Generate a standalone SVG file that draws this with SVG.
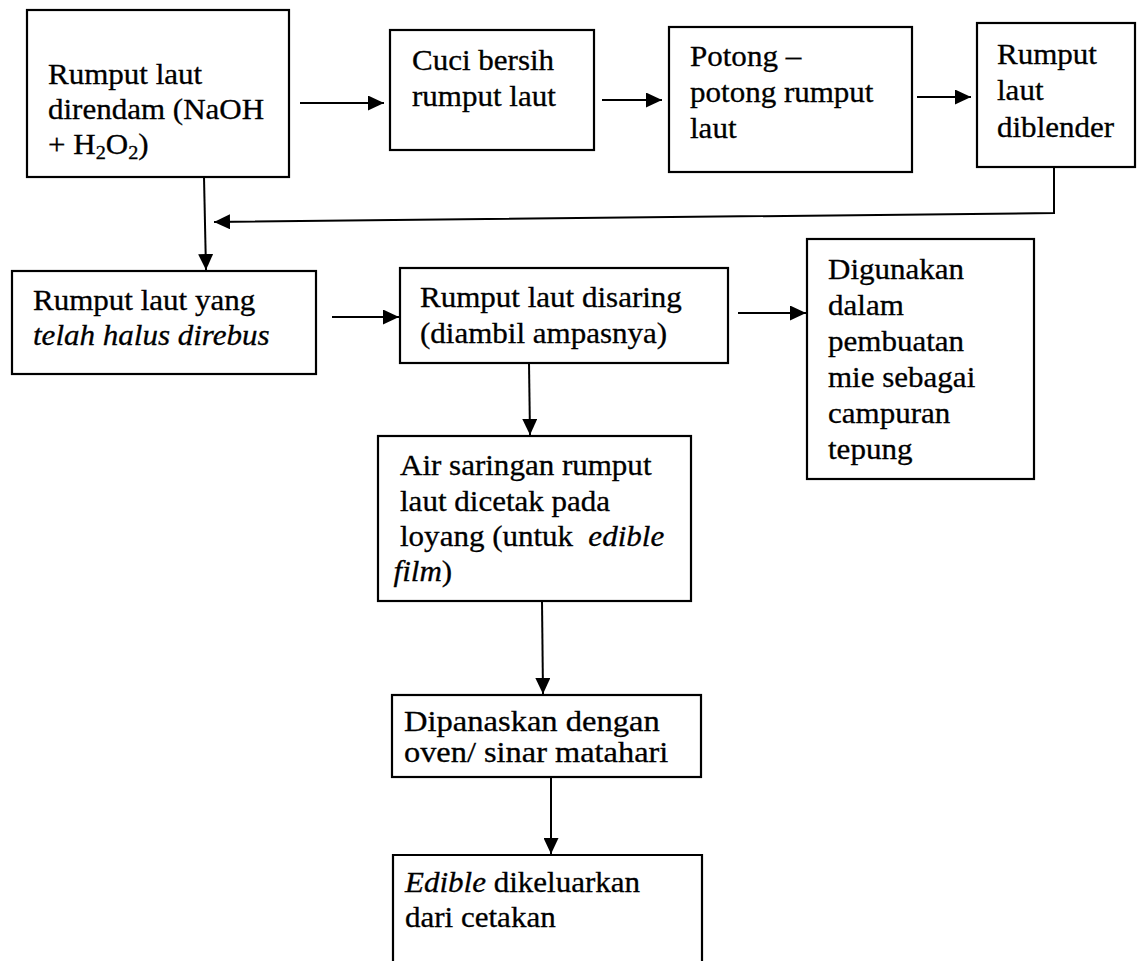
<svg xmlns="http://www.w3.org/2000/svg" width="1147" height="961" viewBox="0 0 1147 961">
<style>
.box{fill:#fff;stroke:#000;stroke-width:2.2}
.t{font-family:"Liberation Serif","Times New Roman",serif;font-size:29px;fill:#000;stroke:#000;stroke-width:0.3}
.i{font-style:italic}
.sub{font-size:19px}
.c{fill:none;stroke:#000;stroke-width:2}
</style>
<defs>
<marker id="ah" viewBox="0 0 16 15" markerWidth="16" markerHeight="15" refX="16" refY="7.5" orient="auto" markerUnits="userSpaceOnUse"><path d="M0,0 L16,7.5 L0,15 Z" fill="#000"/></marker>
</defs>
<rect width="1147" height="961" fill="#fff"/>

<g id="connectors">
<line class="c" x1="300" y1="103" x2="384" y2="103" marker-end="url(#ah)"/>
<line class="c" x1="602" y1="100" x2="662" y2="100" marker-end="url(#ah)"/>
<line class="c" x1="917" y1="97" x2="971" y2="97" marker-end="url(#ah)"/>
<polyline class="c" points="1054,167 1054,213 214,222" marker-end="url(#ah)"/>
<line class="c" x1="204" y1="177" x2="206" y2="270" marker-end="url(#ah)"/>
<line class="c" x1="332" y1="317" x2="399" y2="317" marker-end="url(#ah)"/>
<line class="c" x1="529" y1="363" x2="530" y2="435" marker-end="url(#ah)"/>
<line class="c" x1="738" y1="313" x2="806" y2="313" marker-end="url(#ah)"/>
<line class="c" x1="542" y1="601" x2="543" y2="694" marker-end="url(#ah)"/>
<line class="c" x1="551" y1="777" x2="551" y2="854" marker-end="url(#ah)"/>
</g>

<g id="n1">
<rect class="box" x="27" y="10" width="262" height="167"/>
<text class="t" transform="translate(48,84) scale(1.07,1)"><tspan x="0" y="0">Rumput laut</tspan><tspan x="0" y="35">direndam (NaOH</tspan><tspan x="0" y="70">+ H<tspan class="sub" dy="5">2</tspan><tspan dy="-5">O</tspan><tspan class="sub" dy="5">2</tspan><tspan dy="-5">)</tspan></tspan></text>
</g>

<g id="n2">
<rect class="box" x="390" y="30" width="204" height="120"/>
<text class="t" transform="translate(412,70) scale(1.07,1)"><tspan x="0" y="0">Cuci bersih</tspan><tspan x="0" y="36">rumput laut</tspan></text>
</g>

<g id="n3">
<rect class="box" x="669" y="27" width="243" height="145"/>
<text class="t" transform="translate(690,66) scale(1.07,1)"><tspan x="0" y="0">Potong –</tspan><tspan x="0" y="36">potong rumput</tspan><tspan x="0" y="72">laut</tspan></text>
</g>

<g id="n4">
<rect class="box" x="977" y="23" width="158" height="144"/>
<text class="t" transform="translate(997,64) scale(1.07,1)"><tspan x="0" y="0">Rumput</tspan><tspan x="0" y="36">laut</tspan><tspan x="0" y="73">diblender</tspan></text>
</g>

<g id="n5">
<rect class="box" x="12" y="271" width="304" height="103"/>
<text class="t" transform="translate(33,310) scale(1.07,1)"><tspan x="0" y="0">Rumput laut yang</tspan><tspan class="i" x="0" y="35">telah halus direbus</tspan></text>
</g>

<g id="n6">
<rect class="box" x="400" y="268" width="328" height="95"/>
<text class="t" transform="translate(420,307) scale(1.07,1)"><tspan x="0" y="0">Rumput laut disaring</tspan><tspan x="0" y="36">(diambil ampasnya)</tspan></text>
</g>

<g id="n7">
<rect class="box" x="807" y="239" width="227" height="240"/>
<text class="t" transform="translate(828,279) scale(1.07,1)"><tspan x="0" y="0">Digunakan</tspan><tspan x="0" y="36">dalam</tspan><tspan x="0" y="72">pembuatan</tspan><tspan x="0" y="108">mie sebagai</tspan><tspan x="0" y="144">campuran</tspan><tspan x="0" y="180">tepung</tspan></text>
</g>

<g id="n8">
<rect class="box" x="378" y="436" width="313" height="165"/>
<text class="t" transform="translate(400,475) scale(1.07,1)"><tspan x="0" y="0">Air saringan rumput</tspan><tspan x="0" y="36">laut dicetak pada</tspan><tspan x="0" y="71">loyang (untuk <tspan class="i" dx="7">edible</tspan></tspan><tspan x="-6" y="106"><tspan class="i">film</tspan>)</tspan></text>
</g>

<g id="n9">
<rect class="box" x="392" y="695" width="309" height="82"/>
<text class="t" transform="translate(404,731) scale(1.07,1)" textLength="239" lengthAdjust="spacingAndGlyphs">Dipanaskan dengan</text>
<text class="t" transform="translate(404,762) scale(1.07,1)" textLength="247" lengthAdjust="spacingAndGlyphs">oven/ sinar matahari</text>
</g>

<g id="n10">
<path class="box" d="M393,962 V855 H702 V962"/>
<text class="t" transform="translate(405,892) scale(1.07,1)"><tspan x="0" y="0"><tspan class="i">Edible</tspan> dikeluarkan</tspan><tspan x="0" y="35">dari cetakan</tspan></text>
</g>
</svg>
